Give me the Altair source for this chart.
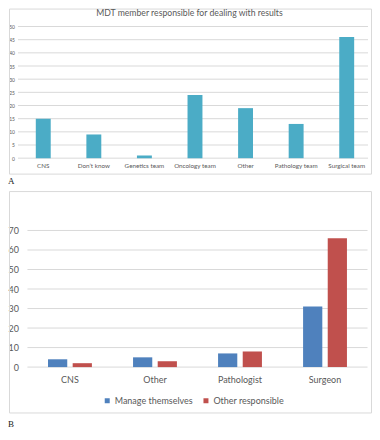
import altair as alt
import pandas as pd

# ---- Panel A data ----
title_a = "MDT member responsible for dealing with results"
cats_a = ["CNS", "Don\u2019t know", "Genetics team", "Oncology team", "Other",
          "Pathology team", "Surgical team"]
vals_a = [15, 9, 1, 24, 19, 13, 46]
ticks_a = [0, 5, 10, 15, 20, 25, 30, 35, 40, 45, 50]

# ---- Panel B data ----
cats_b = ["CNS", "Other", "Pathologist", "Surgeon"]
series_b = ["Manage themselves", "Other responsible"]
manage_b = [4, 5, 7, 31]
other_b = [2, 3, 8, 66]
ticks_b = [0, 10, 20, 30, 40, 50, 60, 70]

FONT = "Lato"
GRAY = "#595959"
GRID = "#d9d9d9"

df_a = pd.DataFrame({"cat": cats_a, "v": vals_a})
df_ta = pd.DataFrame({"v": ticks_a})
df_b = pd.DataFrame({
    "cat": cats_b * 2,
    "series": [series_b[0]] * 4 + [series_b[1]] * 4,
    "v": manage_b + other_b,
})
df_tb = pd.DataFrame({"v": ticks_b})
one = pd.DataFrame({"k": [0]})

WA, HA = 355, 132
WB, HB = 351, 137

# ---------------- Panel A ----------------
ya = alt.Scale(domain=[0, 50], nice=False)
axis_ya = alt.Axis(title=None, values=ticks_a, grid=False, domain=False, ticks=False,
                   labelFontSize=5, labelFont=FONT, labelColor=GRAY, labelPadding=3.5)
grid_a = alt.Chart(df_ta).mark_rule(color=GRID, strokeWidth=1).encode(
    y=alt.Y("v:Q", scale=ya, axis=axis_ya), x=alt.value(0), x2=alt.value(351))
bars_a = alt.Chart(df_a).mark_bar(color="#4BACC6").encode(
    x=alt.X("cat:N", sort=cats_a,
            scale=alt.Scale(paddingInner=0.705, paddingOuter=0.3525),
            axis=alt.Axis(title=None, labelAngle=0, labelFontSize=6.3, labelFont=FONT,
                          labelColor=GRAY, ticks=False, domain=False,
                          labelPadding=4.5)),
    y=alt.Y("v:Q", scale=ya, axis=axis_ya),
)
box_a = alt.Chart(one).mark_rect(filled=False, stroke=GRID, strokeWidth=1).encode(
    x=alt.value(-8.5), x2=alt.value(354.5), y=alt.value(-17.5), y2=alt.value(148))
ttl_a = alt.Chart(one).mark_text(text=title_a, fontSize=8.7, font=FONT, color=GRAY,
                                 baseline="middle").encode(
    x=alt.value(172), y=alt.value(-13.5))
lab_a = alt.Chart(one).mark_text(text="A", fontSize=9, font="Liberation Serif",
                                 color="#222222", align="left", baseline="middle").encode(
    x=alt.value(-10), y=alt.value(155))
chart_a = alt.layer(box_a, grid_a, bars_a, ttl_a, lab_a).properties(width=WA, height=HA)

# ---------------- Panel B ----------------
yb = alt.Scale(domain=[0, 70], nice=False)
axis_yb = alt.Axis(title=None, values=ticks_b, grid=False, offset=-9.5, domain=False,
                   ticks=False, labelFontSize=9, labelFont=FONT, labelColor=GRAY,
                   labelPadding=9)
grid_b = alt.Chart(df_tb).mark_rule(color=GRID, strokeWidth=1).encode(
    y=alt.Y("v:Q", scale=yb, axis=axis_yb), x=alt.value(9.5), x2=alt.value(350.5))
bars_b = alt.Chart(df_b).mark_bar().encode(
    x=alt.X("cat:N", sort=cats_b,
            scale=alt.Scale(paddingInner=0.484, paddingOuter=0.3006, align=0.588),
            axis=alt.Axis(title=None, labelAngle=0, labelFontSize=9, labelFont=FONT,
                          labelColor=GRAY, ticks=False, domain=False,
                          labelPadding=8)),
    xOffset=alt.XOffset("series:N", sort=series_b,
                        scale=alt.Scale(paddingInner=0.22, paddingOuter=0)),
    y=alt.Y("v:Q", scale=yb, axis=axis_yb),
    color=alt.Color("series:N", sort=series_b,
                    scale=alt.Scale(domain=series_b, range=["#4F81BD", "#C0504D"]),
                    legend=alt.Legend(orient="none", legendX=85, legendY=166,
                                      direction="horizontal", title=None,
                                      symbolType="square", symbolSize=25,
                                      symbolStrokeWidth=0, labelFontSize=9,
                                      labelFont=FONT, labelColor=GRAY,
                                      labelOffset=3, columnPadding=8, padding=0)),
)
box_b = alt.Chart(one).mark_rect(filled=False, stroke=GRID, strokeWidth=1).encode(
    x=alt.value(-8.5), x2=alt.value(354.5), y=alt.value(-39), y2=alt.value(183))
lab_b = alt.Chart(one).mark_text(text="B", fontSize=9, font="Liberation Serif",
                                 color="#222222", align="left", baseline="middle").encode(
    x=alt.value(-10), y=alt.value(194))
chart_b = alt.layer(box_b, grid_b, bars_b, lab_b).properties(width=WB, height=HB)

chart = alt.concat(chart_a, chart_b, columns=1, spacing=4.5).resolve_scale(
    color="independent"
).properties(padding=0, background="white").configure_view(strokeWidth=0)

chart.save("out.html", embed_options={"renderer": "svg", "actions": False})
